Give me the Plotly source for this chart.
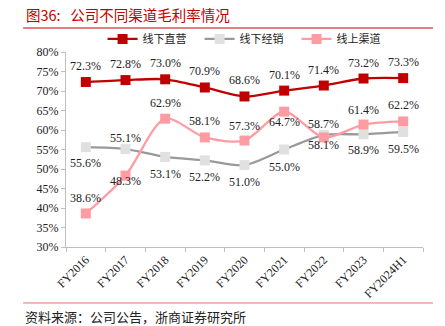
import plotly.graph_objects as go

categories = ["FY2016", "FY2017", "FY2018", "FY2019", "FY2020", "FY2021", "FY2022", "FY2023", "FY2024H1"]
direct = [72.3, 72.8, 73.0, 70.9, 68.6, 70.1, 71.4, 73.2, 73.3]
dealer = [55.6, 55.1, 53.1, 52.2, 51.0, 55.0, 58.7, 58.9, 59.5]
online = [38.6, 48.3, 62.9, 58.1, 57.3, 64.7, 58.1, 61.4, 62.2]
series_names = ["线下直营", "线下经销", "线上渠道"]
y_ticks = [30, 35, 40, 45, 50, 55, 60, 65, 70, 75, 80]

# label vertical offsets (px, positive = up)
off_direct = [16, 16, 16, 16, 16, 16, 16, 16, 16]
off_dealer = [-16, 11, -17, -17, -17, -17, 11, -16, -17]
off_online = [15, -5, 16, 16, 15, -10, -8, 15, 16]

serif = "Liberation Serif"
cjk = "Noto Sans CJK SC"

fig = go.Figure()
styles = [
    (direct, "#C00000", "#C00000", off_direct),
    (dealer, "#999999", "#E0E0E0", off_dealer),
    (online, "#FF9CA3", "#FF9CA3", off_online),
]
for (vals, lc, mc, offs), name in zip(styles, series_names):
    fig.add_trace(go.Scatter(
        x=categories, y=vals, name=name, mode="lines+markers",
        line=dict(color=lc, width=2.3, shape="spline", smoothing=0.8),
        marker=dict(symbol="square", size=10, color=mc),
    ))
    for c, v, o in zip(categories, vals, offs):
        fig.add_annotation(x=c, y=v, text=f"{v:.1f}%", showarrow=False,
                           yshift=o, font=dict(family=serif, size=12, color="#222"))

fig.add_annotation(xref="paper", yref="paper", x=-0.118, y=1.19, xanchor="left", yanchor="middle",
                   text="图36:   公司不同渠道毛利率情况", showarrow=False,
                   font=dict(family=cjk, size=14.5, color="#C00000"))
fig.add_annotation(xref="paper", yref="paper", x=-0.12, y=-0.354, xanchor="left", yanchor="middle",
                   text="资料来源：公司公告，浙商证券研究所", showarrow=False,
                   font=dict(family=cjk, size=13, color="#222"))
fig.add_shape(type="line", xref="paper", yref="paper", x0=-0.12, x1=1.028, y0=1.123, y1=1.123,
              line=dict(color="#C00000", width=1))
fig.add_shape(type="line", xref="paper", yref="paper", x0=-0.12, x1=1.028, y0=-0.287, y1=-0.287,
              line=dict(color="#E07070", width=1))

fig.update_layout(
    width=445, height=326,
    margin=dict(l=66, r=22, t=52, b=79),
    plot_bgcolor="white", paper_bgcolor="white",
    showlegend=True,
    legend=dict(orientation="h", x=0.51, xanchor="center", y=1.067, yanchor="middle",
                font=dict(family=cjk, size=11, color="#222"), itemwidth=30,
                entrywidth=52, entrywidthmode="pixels",
                bgcolor="rgba(0,0,0,0)"),
    xaxis=dict(type="category", range=[-0.5, 8.5], tickson="boundaries", ticks="outside",
               ticklen=4, tickcolor="#BFBFBF", showline=True, linecolor="#BFBFBF", linewidth=1,
               showgrid=False, tickangle=-45, tickfont=dict(family=serif, size=12, color="#222")),
    yaxis=dict(range=[30, 80], tickvals=y_ticks, ticktext=[f"{t}%" for t in y_ticks],
               ticks="outside", ticklen=4, tickcolor="#BFBFBF", showline=True,
               linecolor="#BFBFBF", linewidth=1, showgrid=False, zeroline=False,
               tickfont=dict(family=serif, size=12, color="#222")),
)

fig.write_html("out.html")
